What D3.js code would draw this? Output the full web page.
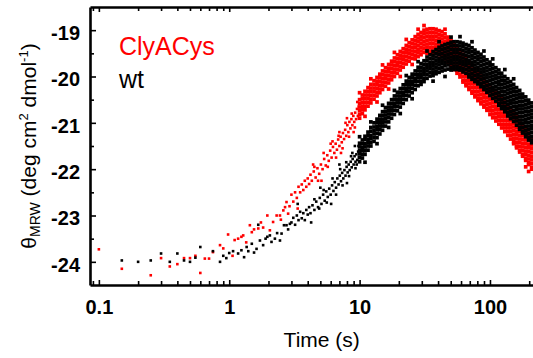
<!DOCTYPE html>
<html><head><meta charset="utf-8">
<script src="https://cdn.jsdelivr.net/npm/d3@7"></script>
<style>body{margin:0;background:#fff}svg{display:block}text{font-family:"Liberation Sans",Arial,sans-serif}</style>
</head><body><svg id="c" width="533" height="358"></svg>
<script>
// ---- data (time in s, theta in deg cm2 dmol-1) ----
const seriesNames = ["ClyACys", "wt"];
const seriesColors = ["#ff0000", "#000000"];
const xTicks = [0.1, 1, 10, 100];
const xTickLabels = ["0.1", "1", "10", "100"];
const yTicks = [-24, -23, -22, -21, -20, -19];
const yTickLabels = ["-24", "-23", "-22", "-21", "-20", "-19"];

// sparse early points [t, value]
const redPts = [
 [0.1,-23.73],[0.15,-24.15],[0.25,-24.29],[0.3,-23.92],[0.35,-24.1],[0.4,-24.05],[0.45,-23.92],[0.5,-23.92],
 [0.55,-23.87],[0.6,-24.24],[0.65,-23.93],[0.7,-23.93],[0.75,-23.79],[0.85,-23.64],[0.9,-23.71],[0.98,-23.41],
 [1.06,-23.87],[1.1,-23.53],[1.17,-23.5],[1.24,-23.46],[1.28,-23.43],[1.35,-23.58],[1.44,-23.21],[1.49,-23.36],
 [1.55,-23.3],[1.67,-23.28],[1.75,-23.15],[1.82,-23.26],[1.96,-23.0],[2.05,-23.32],[2.17,-23.14],[2.31,-23.0],
 [2.45,-23.0],[2.49,-23.09],[2.6,-22.89],[2.68,-22.82],[2.75,-22.71],[2.83,-22.96],[2.9,-22.8],
 [3.0,-22.55],[3.1,-22.7],[3.2,-22.5],[3.3,-22.62],[3.35,-22.85],[3.4,-22.38],[3.5,-22.5],[3.6,-22.33],[3.7,-22.45],
 [3.8,-22.25],[3.9,-22.38],[4.0,-22.2],[4.1,-22.32],[4.2,-22.12],[4.3,-22.25],[4.4,-21.9],[4.45,-22.05],[4.6,-22.18],
 [4.75,-21.98],[4.9,-22.1],[5.05,-21.9],[5.1,-22.25],[5.2,-22.0],[5.35,-21.78],[5.5,-21.92],[5.65,-21.7],[5.8,-21.82],
 [5.95,-21.6],[6.0,-21.45],[6.1,-21.75],[6.25,-21.52],[6.4,-21.65],[6.55,-21.45],[6.7,-21.58],[6.85,-21.36],[7.0,-21.5],
 [7.15,-21.3],[7.2,-21.65],[7.3,-21.42],[7.45,-21.22],[7.6,-21.35],[7.75,-21.15],[7.9,-21.28],[8.0,-20.9],[8.05,-21.05],
 [8.2,-21.2],[8.35,-20.98],[8.5,-21.12],[8.65,-20.92],[8.8,-21.05],[8.95,-20.85],[9.0,-21.2],[9.1,-20.98],[9.25,-20.78],
 [9.4,-20.92],[9.55,-20.7],[9.7,-20.85],[9.85,-20.65],
 [4.5,-21.95],[4.8,-22.25],[5.3,-21.65],[5.7,-21.95],[6.2,-21.4],[6.6,-21.75],[7.0,-21.2],[7.4,-21.55],[7.8,-21.0],
 [8.3,-21.3],[8.7,-20.8],[9.2,-21.1],[9.6,-20.55],[9.9,-20.9],[6.9,-21.28]
];
const blackPts = [
 [0.15,-23.97],[0.2,-24.0],[0.25,-23.97],[0.3,-23.82],[0.35,-24.0],[0.4,-23.82],[0.45,-23.97],[0.5,-24.0],
 [0.55,-23.91],[0.6,-23.68],[0.75,-23.77],[0.85,-24.0],[0.9,-23.87],[0.95,-23.92],[1.0,-23.81],
 [1.07,-23.77],[1.17,-23.82],[1.24,-23.75],[1.3,-23.9],[1.36,-23.68],[1.4,-23.77],[1.49,-23.61],[1.55,-23.8],
 [1.62,-23.72],[1.67,-23.2],[1.72,-23.54],[1.82,-23.64],[1.9,-23.5],[1.96,-23.46],[2.05,-23.43],[2.11,-23.57],
 [2.24,-23.5],[2.33,-23.38],[2.45,-23.54],[2.52,-23.39],[2.63,-23.21],[2.75,-23.21],[2.83,-23.3],[2.92,-23.18],
 [3.0,-23.15],[3.1,-23.05],[3.2,-23.2],[3.3,-23.0],[3.35,-22.75],[3.4,-23.1],[3.5,-22.92],[3.6,-23.06],[3.7,-22.95],
 [3.8,-23.1],[3.9,-22.88],[4.0,-22.98],[4.1,-22.82],[4.2,-22.95],[4.25,-23.15],[4.35,-22.78],[4.5,-22.88],[4.65,-22.7],
 [4.8,-22.82],[4.95,-22.62],[5.0,-22.4],[5.1,-22.75],[5.25,-22.55],[5.4,-22.68],[5.55,-22.48],[5.7,-22.6],[5.85,-22.42],
 [6.0,-22.55],[6.05,-22.75],[6.15,-22.35],[6.3,-22.47],[6.45,-22.28],[6.6,-22.4],[6.75,-22.2],[6.9,-22.33],[7.0,-21.9],
 [7.05,-22.14],[7.2,-22.26],[7.35,-22.08],[7.5,-22.2],[7.65,-22.02],[7.8,-22.14],[7.95,-21.95],[8.0,-22.3],[8.1,-22.07],
 [8.25,-21.9],[8.4,-22.02],[8.55,-21.84],[8.7,-21.96],[8.85,-21.78],[9.0,-21.9],[9.15,-21.72],[9.2,-21.5],[9.3,-21.84],
 [9.45,-21.68],[9.6,-21.8],[9.75,-21.62],[9.9,-21.74],
 [4.5,-22.65],[4.9,-22.85],[5.3,-22.45],[5.6,-22.72],[6.2,-22.2],[6.6,-22.55],[7.1,-22.0],[7.4,-22.35],[7.9,-21.85],
 [8.3,-22.15],[8.8,-21.65],[9.3,-21.98],[9.8,-21.5],[9.5,-21.9],[8.6,-21.72]
];

// dense later region: [t, values at that time...]
const redCols = [
 [10,-20.5,-20.58,-20.66,-20.74,-20.82,-20.9,-20.35],
 [10.5,-20.4,-20.48,-20.56,-20.64,-20.72,-20.8],
 [11,-20.32,-20.4,-20.48,-20.56,-20.64,-20.72,-20.86],
 [11.6,-20.24,-20.32,-20.4,-20.48,-20.56,-20.64],
 [12.2,-20.17,-20.25,-20.33,-20.41,-20.49,-20.57,-20.05],
 [12.9,-20.09,-20.17,-20.25,-20.33,-20.41,-20.49],
 [13.6,-20.02,-20.1,-20.18,-20.26,-20.34,-20.42,-20.55],
 [14.3,-19.95,-20.03,-20.11,-20.19,-20.27,-20.35],
 [15,-19.88,-19.96,-20.04,-20.12,-20.2,-20.28,-19.75],
 [15.8,-19.81,-19.89,-19.97,-20.05,-20.13,-20.21],
 [16.7,-19.74,-19.82,-19.9,-19.98,-20.06,-20.14,-20.27],
 [17.6,-19.67,-19.75,-19.83,-19.91,-19.99,-20.07],
 [18.5,-19.6,-19.68,-19.76,-19.84,-19.92,-20.0,-19.48],
 [19.5,-19.53,-19.61,-19.69,-19.77,-19.85,-19.93],
 [20.5,-19.46,-19.54,-19.62,-19.7,-19.78,-19.86,-20.0],
 [21.6,-19.4,-19.48,-19.56,-19.64,-19.72,-19.8],
 [22.8,-19.33,-19.41,-19.49,-19.57,-19.65,-19.73,-19.2],
 [24,-19.27,-19.35,-19.43,-19.51,-19.59,-19.67],
 [25.3,-19.21,-19.29,-19.37,-19.45,-19.53,-19.61,-19.74],
 [26.7,-19.14,-19.22,-19.3,-19.38,-19.46,-19.54,-19.62],
 [28.1,-19.09,-19.17,-19.25,-19.33,-19.41,-19.49,-19.57,-18.98],
 [29.6,-19.05,-19.13,-19.21,-19.29,-19.37,-19.45,-19.53],
 [31.2,-19.0,-19.08,-19.16,-19.24,-19.32,-19.4,-19.48,-18.9],
 [32.9,-18.98,-19.06,-19.14,-19.22,-19.3,-19.38,-19.46,-19.5],
 [34.7,-18.97,-19.05,-19.13,-19.21,-19.29,-19.37,-19.45,-19.49],
 [36.6,-18.97,-19.05,-19.13,-19.21,-19.29,-19.37,-19.45,-19.49],
 [38.6,-18.98,-19.06,-19.14,-19.22,-19.3,-19.38,-19.46,-19.5],
 [40.7,-19.01,-19.09,-19.17,-19.25,-19.33,-19.41,-19.49,-19.53],
 [42.9,-19.03,-19.11,-19.19,-19.27,-19.35,-19.43,-19.51,-19.57],
 [45.2,-19.08,-19.16,-19.24,-19.32,-19.4,-19.48,-19.56,-19.62,-18.98],
 [47.7,-19.15,-19.23,-19.31,-19.39,-19.47,-19.55,-19.63,-19.69],
 [50.3,-19.23,-19.31,-19.39,-19.47,-19.55,-19.63,-19.71,-19.77],
 [53,-19.31,-19.39,-19.47,-19.55,-19.63,-19.71,-19.79,-19.85],
 [55.9,-19.39,-19.47,-19.55,-19.63,-19.71,-19.79,-19.87,-19.93],
 [58.9,-19.47,-19.55,-19.63,-19.71,-19.79,-19.87,-19.95,-20.01],
 [62.1,-19.52,-19.6,-19.68,-19.76,-19.84,-19.92,-20.0,-20.08,-20.12],
 [65.5,-19.6,-19.68,-19.76,-19.84,-19.92,-20.0,-20.08,-20.16,-20.2],
 [69,-19.68,-19.76,-19.84,-19.92,-20.0,-20.08,-20.16,-20.24,-20.28],
 [72.8,-19.76,-19.84,-19.92,-20.0,-20.08,-20.16,-20.24,-20.32,-20.36],
 [76.7,-19.84,-19.92,-20.0,-20.08,-20.16,-20.24,-20.32,-20.4,-20.44],
 [80.9,-19.92,-20.0,-20.08,-20.16,-20.24,-20.32,-20.4,-20.48,-20.52],
 [85.3,-19.99,-20.07,-20.15,-20.23,-20.31,-20.39,-20.47,-20.55,-20.59],
 [89.9,-20.06,-20.14,-20.22,-20.3,-20.38,-20.46,-20.54,-20.62,-20.66],
 [94.8,-20.13,-20.21,-20.29,-20.37,-20.45,-20.53,-20.61,-20.69,-20.73],
 [100,-20.18,-20.26,-20.34,-20.42,-20.5,-20.58,-20.66,-20.74,-20.82],
 [105,-20.25,-20.33,-20.41,-20.49,-20.57,-20.65,-20.73,-20.81,-20.89],
 [111,-20.32,-20.4,-20.48,-20.56,-20.64,-20.72,-20.8,-20.88,-20.96],
 [117,-20.39,-20.47,-20.55,-20.63,-20.71,-20.79,-20.87,-20.95,-21.03],
 [123,-20.47,-20.55,-20.63,-20.71,-20.79,-20.87,-20.95,-21.03,-21.11],
 [130,-20.55,-20.63,-20.71,-20.79,-20.87,-20.95,-21.03,-21.11,-21.19],
 [137,-20.63,-20.71,-20.79,-20.87,-20.95,-21.03,-21.11,-21.19,-21.27],
 [144,-20.71,-20.79,-20.87,-20.95,-21.03,-21.11,-21.19,-21.27,-21.35],
 [152,-20.77,-20.85,-20.93,-21.01,-21.09,-21.17,-21.25,-21.33,-21.41,-21.45],
 [160,-20.86,-20.94,-21.02,-21.1,-21.18,-21.26,-21.34,-21.42,-21.5,-21.54],
 [169,-20.95,-21.03,-21.11,-21.19,-21.27,-21.35,-21.43,-21.51,-21.59,-21.63],
 [178,-21.04,-21.12,-21.2,-21.28,-21.36,-21.44,-21.52,-21.6,-21.68,-21.72],
 [188,-21.13,-21.21,-21.29,-21.37,-21.45,-21.53,-21.61,-21.69,-21.77,-21.81,-21.95],
 [198,-21.22,-21.3,-21.38,-21.46,-21.54,-21.62,-21.7,-21.78,-21.86,-21.9,-22.05],
 [209,-21.32,-21.4,-21.48,-21.56,-21.64,-21.72,-21.8,-21.88,-21.96,-22.0]
];
const blackCols = [
 [10,-21.44,-21.52,-21.6,-21.67,-21.75,-21.84,-21.3],
 [10.5,-21.37,-21.45,-21.53,-21.6,-21.68,-21.76],
 [11,-21.29,-21.36,-21.45,-21.52,-21.6,-21.68,-21.85],
 [11.6,-21.2,-21.28,-21.36,-21.43,-21.5,-21.59],
 [12.2,-21.1,-21.18,-21.27,-21.34,-21.42,-21.5,-20.98],
 [12.9,-21.0,-21.09,-21.17,-21.24,-21.32,-21.4],
 [13.6,-20.92,-21.0,-21.08,-21.15,-21.23,-21.32,-21.45],
 [14.3,-20.84,-20.92,-21.0,-21.07,-21.15,-21.24],
 [15,-20.76,-20.84,-20.92,-21.0,-21.07,-21.16,-20.62],
 [15.8,-20.67,-20.75,-20.83,-20.9,-20.98,-21.07],
 [16.7,-20.58,-20.66,-20.74,-20.81,-20.89,-20.98,-21.1],
 [17.6,-20.5,-20.58,-20.66,-20.73,-20.81,-20.9],
 [18.5,-20.42,-20.5,-20.58,-20.65,-20.73,-20.82,-20.3],
 [19.5,-20.34,-20.42,-20.5,-20.57,-20.65,-20.74],
 [20.5,-20.26,-20.34,-20.42,-20.49,-20.57,-20.66,-20.8],
 [21.6,-20.18,-20.26,-20.34,-20.41,-20.49,-20.58],
 [22.8,-20.1,-20.18,-20.26,-20.33,-20.41,-20.5,-19.98],
 [24,-20.02,-20.1,-20.18,-20.25,-20.33,-20.42],
 [25.3,-19.95,-20.03,-20.11,-20.18,-20.26,-20.35,-20.48],
 [26.7,-19.88,-19.96,-20.04,-20.11,-20.19,-20.28],
 [28.1,-19.8,-19.88,-19.96,-20.03,-20.11,-20.2,-19.68],
 [29.6,-19.72,-19.8,-19.88,-19.95,-20.02,-20.1,-20.17],
 [31.2,-19.66,-19.74,-19.82,-19.89,-19.96,-20.04,-20.11],
 [32.9,-19.58,-19.66,-19.74,-19.81,-19.88,-19.96,-20.04,-19.45],
 [34.7,-19.53,-19.61,-19.69,-19.76,-19.83,-19.91,-19.99],
 [36.6,-19.46,-19.54,-19.62,-19.7,-19.77,-19.84,-19.92,-19.98,-20.1],
 [38.6,-19.42,-19.5,-19.58,-19.66,-19.73,-19.8,-19.88,-19.94],
 [40.7,-19.37,-19.45,-19.53,-19.61,-19.68,-19.75,-19.83,-19.91,-19.25],
 [42.9,-19.34,-19.42,-19.5,-19.58,-19.65,-19.72,-19.8,-19.88],
 [45.2,-19.31,-19.39,-19.47,-19.55,-19.62,-19.69,-19.77,-19.86,-20.0],
 [47.7,-19.29,-19.37,-19.45,-19.53,-19.6,-19.67,-19.75,-19.84],
 [50.3,-19.26,-19.34,-19.42,-19.5,-19.58,-19.65,-19.72,-19.8,-19.86,-19.15],
 [53,-19.25,-19.33,-19.41,-19.49,-19.57,-19.64,-19.71,-19.79,-19.85],
 [55.9,-19.25,-19.33,-19.41,-19.49,-19.57,-19.64,-19.71,-19.79,-19.85],
 [58.9,-19.26,-19.34,-19.42,-19.5,-19.58,-19.65,-19.72,-19.8,-19.86,-19.14],
 [62.1,-19.28,-19.36,-19.44,-19.52,-19.6,-19.67,-19.74,-19.82,-19.9],
 [65.5,-19.31,-19.39,-19.47,-19.55,-19.63,-19.7,-19.77,-19.85,-19.93],
 [69,-19.33,-19.41,-19.49,-19.57,-19.65,-19.72,-19.8,-19.88,-19.96,-20.01],
 [72.8,-19.38,-19.46,-19.54,-19.62,-19.7,-19.77,-19.85,-19.93,-20.01,-20.06,-19.25],
 [76.7,-19.43,-19.51,-19.59,-19.67,-19.75,-19.82,-19.9,-19.98,-20.06,-20.11],
 [80.9,-19.48,-19.56,-19.64,-19.72,-19.8,-19.87,-19.95,-20.03,-20.11,-20.16],
 [85.3,-19.52,-19.6,-19.68,-19.76,-19.84,-19.91,-19.99,-20.07,-20.15,-20.22],
 [89.9,-19.58,-19.66,-19.74,-19.82,-19.9,-19.97,-20.05,-20.13,-20.21,-20.28,-19.45],
 [94.8,-19.64,-19.72,-19.8,-19.88,-19.96,-20.03,-20.11,-20.19,-20.27,-20.34],
 [100,-19.69,-19.77,-19.85,-19.93,-20.01,-20.09,-20.17,-20.25,-20.33,-20.41],
 [105,-19.75,-19.83,-19.91,-19.99,-20.07,-20.15,-20.23,-20.31,-20.39,-20.47,-19.62],
 [111,-19.81,-19.89,-19.97,-20.05,-20.13,-20.21,-20.29,-20.37,-20.45,-20.53],
 [117,-19.86,-19.94,-20.02,-20.1,-20.18,-20.26,-20.34,-20.42,-20.5,-20.58,-20.62],
 [123,-19.93,-20.01,-20.09,-20.17,-20.25,-20.33,-20.41,-20.49,-20.57,-20.65,-20.69],
 [130,-20.0,-20.08,-20.16,-20.24,-20.32,-20.4,-20.48,-20.56,-20.64,-20.72,-20.76,-19.85],
 [137,-20.05,-20.13,-20.21,-20.29,-20.37,-20.45,-20.53,-20.61,-20.69,-20.77,-20.85],
 [144,-20.11,-20.19,-20.27,-20.35,-20.43,-20.51,-20.59,-20.67,-20.75,-20.83,-20.91],
 [152,-20.17,-20.25,-20.33,-20.41,-20.49,-20.57,-20.65,-20.73,-20.81,-20.89,-20.97,-20.05],
 [160,-20.24,-20.32,-20.4,-20.48,-20.56,-20.64,-20.72,-20.8,-20.88,-20.96,-21.05],
 [169,-20.3,-20.38,-20.46,-20.54,-20.62,-20.7,-20.78,-20.86,-20.94,-21.02,-21.1,-21.14],
 [178,-20.38,-20.46,-20.54,-20.62,-20.7,-20.78,-20.86,-20.94,-21.02,-21.1,-21.18,-21.22],
 [188,-20.44,-20.52,-20.6,-20.68,-20.76,-20.84,-20.92,-21.0,-21.08,-21.16,-21.24,-21.3],
 [198,-20.51,-20.59,-20.67,-20.75,-20.83,-20.91,-20.99,-21.07,-21.15,-21.23,-21.31,-21.37],
 [209,-20.57,-20.65,-20.73,-20.81,-20.89,-20.97,-21.05,-21.13,-21.21,-21.29,-21.37,-21.43]
];

// ---- chart ----
const svg = d3.select("#c");
const L = 90, T = 7, B = 285;
const x = d3.scaleLog().domain([0.0855, 220]).range([L, 534.6]);
const y = d3.scaleLinear().domain([-24.5, -18.5]).range([B, T]);

const flat = cols => cols.flatMap(([t, ...vs]) => vs.map(v => [t, v]));

const S1 = 2.6, S2 = 3.7; // sparse dots / dense columns
const plot = svg.append("g");
function dots(cls, data, s, color) {
  plot.selectAll("rect." + cls).data(data).join("rect").attr("class", cls)
    .attr("x", d => x(d[0]) - s/2).attr("y", d => y(d[1]) - s/2)
    .attr("width", s).attr("height", s).attr("fill", color);
}
dots("r1", redPts, S1, seriesColors[0]);
dots("r2", flat(redCols), S2, seriesColors[0]);
dots("k1", blackPts, S1, seriesColors[1]);
dots("k2", flat(blackCols), S2, seriesColors[1]);

// minor ticks
const xMinor = [];
[0.01, 0.1, 1, 10, 100].forEach(d => { for (let k = 2; k <= 9; k++) { const v = d * k; if (v > 0.0855 && v < 220 && !xTicks.includes(v)) xMinor.push(+v.toPrecision(3)); } });
const yMinor = [-23.5, -22.5, -21.5, -20.5, -19.5];

function styleAxis(g) {
  g.select(".domain").attr("stroke", "#000").attr("stroke-width", 2.6);
  g.selectAll(".tick line").attr("stroke", "#000").attr("stroke-width", 1.6);
  g.selectAll("text").attr("font-size", 20).attr("font-weight", "bold").attr("fill", "#000")
   .attr("font-family", '"Liberation Sans", Arial, sans-serif');
}
const minorStyle = g => { g.select(".domain").remove(); g.selectAll("line").attr("stroke", "#000").attr("stroke-width", 1.6); };
// bottom
const gb = svg.append("g").attr("transform", `translate(0,${B})`)
  .call(d3.axisBottom(x).tickValues(xTicks).tickFormat((d,i) => xTickLabels[i]).tickSize(-5).tickSizeOuter(0).tickPadding(15));
styleAxis(gb);
svg.append("g").attr("transform", `translate(0,${B})`)
  .call(d3.axisBottom(x).tickValues(xMinor).tickFormat("").tickSize(-4).tickSizeOuter(0)).call(minorStyle);
// top
const gt = svg.append("g").attr("transform", `translate(0,${T})`)
  .call(d3.axisTop(x).tickValues(xTicks).tickFormat("").tickSize(-5).tickSizeOuter(0));
styleAxis(gt);
svg.append("g").attr("transform", `translate(0,${T})`)
  .call(d3.axisTop(x).tickValues(xMinor).tickFormat("").tickSize(-4).tickSizeOuter(0)).call(minorStyle);
// left
const gl = svg.append("g").attr("transform", `translate(${L},0)`)
  .call(d3.axisLeft(y).tickValues(yTicks).tickFormat((d,i) => yTickLabels[i]).tickSize(-6).tickSizeOuter(0).tickPadding(10));
styleAxis(gl);
gl.selectAll(".tick text").attr("dy", "0.47em");
svg.append("g").attr("transform", `translate(${L},0)`)
  .call(d3.axisLeft(y).tickValues(yMinor).tickFormat("").tickSize(-4).tickSizeOuter(0)).call(minorStyle);

// axis titles
svg.append("text").attr("x", 321.7).attr("y", 346.5).attr("text-anchor", "middle")
  .attr("font-size", 21).attr("fill", "#000").text("Time (s)");

const yt = svg.append("text").attr("transform", "translate(36,146) rotate(-90)")
  .attr("text-anchor", "middle").attr("font-size", 21).attr("fill", "#000");
yt.append("tspan").text("θ");
yt.append("tspan").attr("font-size", 14).attr("dy", 4).text("MRW");
yt.append("tspan").attr("dy", -4).text(" (deg cm");
yt.append("tspan").attr("font-size", 13).attr("dy", -8).text("2");
yt.append("tspan").attr("dy", 8).text(" dmol");
yt.append("tspan").attr("font-size", 13).attr("dy", -8).text("-1");
yt.append("tspan").attr("dy", 8).text(")");

// legend
svg.append("text").attr("x", 119).attr("y", 55).attr("font-size", 25).attr("fill", seriesColors[0]).text(seriesNames[0]);
svg.append("text").attr("x", 119).attr("y", 87.5).attr("font-size", 25).attr("fill", seriesColors[1]).text(seriesNames[1]);
</script>
</body></html>
